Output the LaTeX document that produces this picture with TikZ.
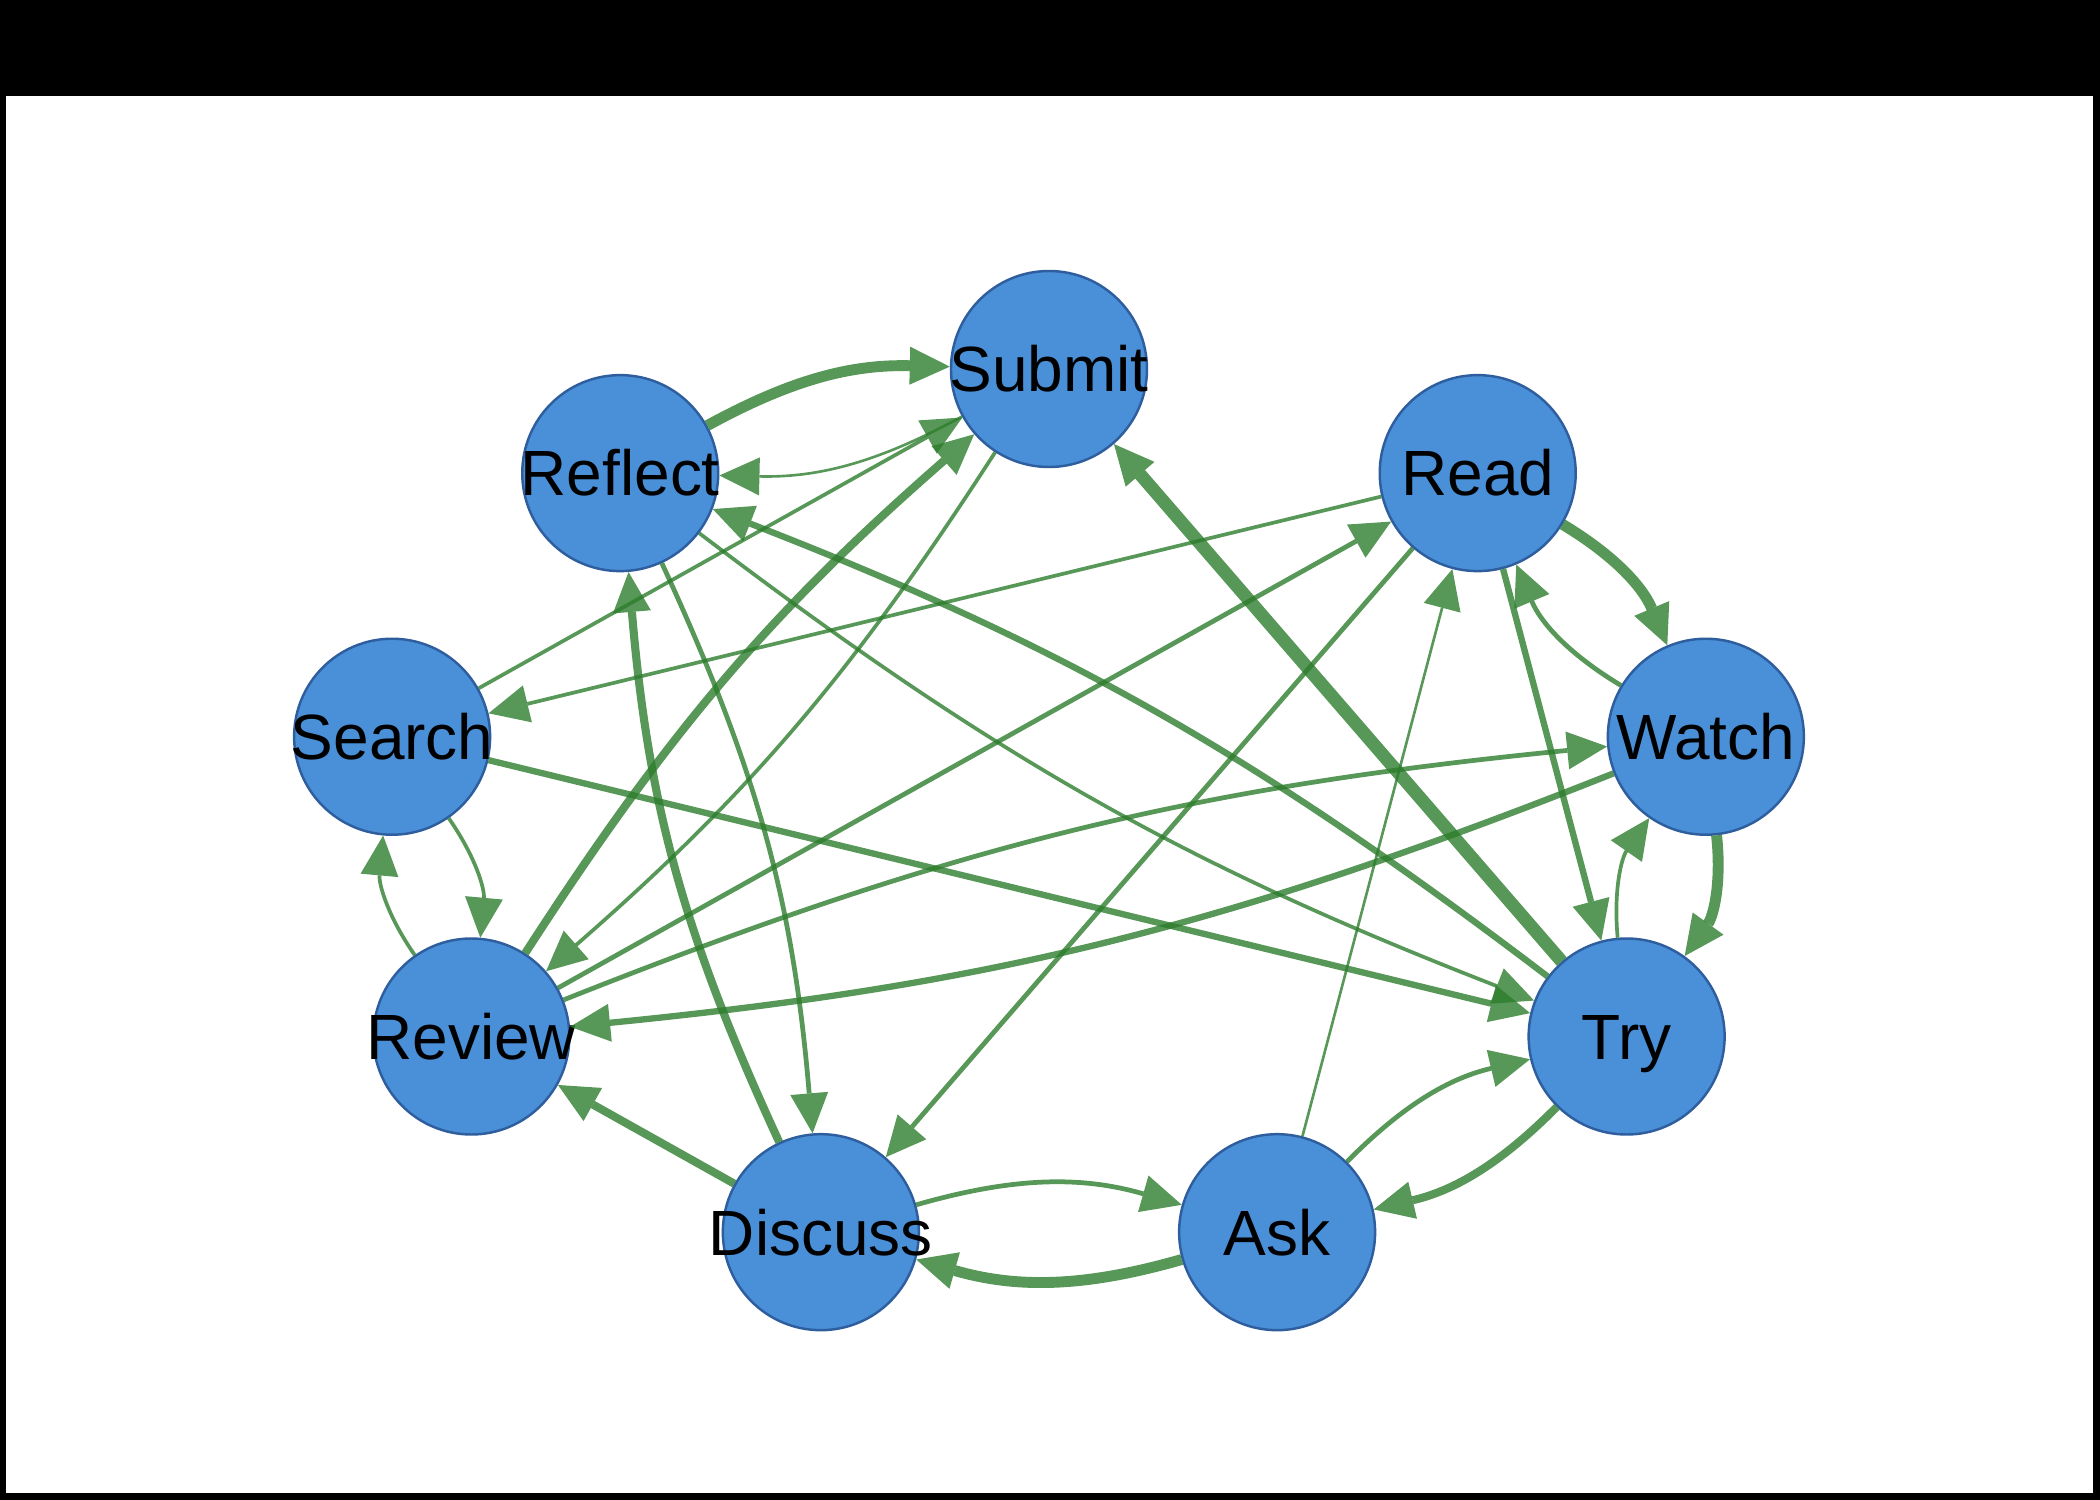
\documentclass[tikz,border=0pt]{standalone}
\usepackage{fontspec}
\setmainfont{Liberation Sans}
\usepackage{tikz}
\usetikzlibrary{positioning,arrows.meta}

\definecolor{knotenblau}{RGB}{74,144,217}
\definecolor{randblau}{RGB}{46,94,158}
\definecolor{kantengruen}{RGB}{45,125,45}

\begin{document}
\begin{tikzpicture}
                    [
                        stage/.style={circle, draw=randblau, fill=knotenblau, line width=.7pt, minimum size=1.96cm, inner sep=0pt},
                        every label/.style={font=\fontsize{18.2}{20}\selectfont, text height=13pt, text depth=0pt, inner sep=0pt},
                        flow/.style={draw=kantengruen, opacity=.8, -{Triangle[length=4mm,width=3.8mm,line width=0pt]}},
                        flow1/.style={flow, line width=.75pt},
                        flow2/.style={flow, line width=1.05pt},
                        flow3/.style={flow, line width=1.35pt},
                        flow4/.style={flow, line width=1.8pt},
                        flow5/.style={flow, line width=2.3pt},
                        flow6/.style={flow, line width=3.1pt},
                        flow7/.style={flow, line width=3.7pt}
                    ]

                    % Rahmen
                    \fill[black] (-10.49,8.14) rectangle (10.51,-6.86);
                    \fill[white] (-10.43,7.18) rectangle (10.44,-6.79);

                    % Knoten
                    \node[stage, label=center:Submit]  (submit)  at (90:6.67 and 4.45)  {};
                    \node[stage, label=center:Reflect] (reflect) at (130:6.67 and 4.45) {};
                    \node[stage, label=center:Search]  (search)  at (170:6.67 and 4.45) {};
                    \node[stage, label=center:Review]  (review)  at (210:6.67 and 4.45) {};
                    \node[stage, label=center:Discuss] (discuss) at (250:6.67 and 4.45) {};
                    \node[stage, label=center:Ask]     (ask)     at (290:6.67 and 4.45) {};
                    \node[stage, label=center:Try]     (try)     at (330:6.67 and 4.45) {};
                    \node[stage, label=center:Watch]   (watch)   at (10:6.67 and 4.45)  {};
                    \node[stage, label=center:Read]    (read)    at (50:6.67 and 4.45)  {};

                    % Kanten
                    \draw[flow6] (reflect) to[bend left=15] (submit);
                    \draw[flow1] (submit) to[bend left=15] (reflect);
                    \draw[flow2] (search) -- (submit);
                    \draw[flow5] (review) to[bend left=8] (submit);
                    \draw[flow2] (submit) to[bend left=8] (review);
                    \draw[flow7] (try) -- (submit);
                    \draw[flow2] (reflect) to[bend right=8] (try);
                    \draw[flow4] (try) to[bend right=8] (reflect);
                    \draw[flow2] (read) -- (search);
                    \draw[flow3] (review) -- (read);
                    \draw[flow3] (read) -- (discuss);
                    \draw[flow1] (ask) -- (read);
                    \draw[flow4] (read) -- (try);
                    \draw[flow6] (read) to[bend left=18] (watch);
                    \draw[flow3] (watch) to[bend left=18] (read);
                    \draw[flow6] (watch) to[bend left=21] (try);
                    \draw[flow2] (try) to[bend left=20] (watch);
                    \draw[flow4] (search) -- (try);
                    \draw[flow2] (search) to[bend left=20] (review);
                    \draw[flow2] (review) to[bend left=20] (search);
                    \draw[flow3] (review) to[bend left=8] (watch);
                    \draw[flow4] (watch) to[bend left=8] (review);
                    \draw[flow5] (discuss) -- (review);
                    \draw[flow3] (reflect) to[bend left=10] (discuss);
                    \draw[flow5] (discuss) to[bend left=10] (reflect);
                    \draw[flow3] (discuss) to[bend left=16] (ask);
                    \draw[flow6] (ask) to[bend left=16] (discuss);
                    \draw[flow3] (ask) to[bend left=16] (try);
                    \draw[flow5] (try) to[bend left=16] (ask);
                \end{tikzpicture}
\end{document}
